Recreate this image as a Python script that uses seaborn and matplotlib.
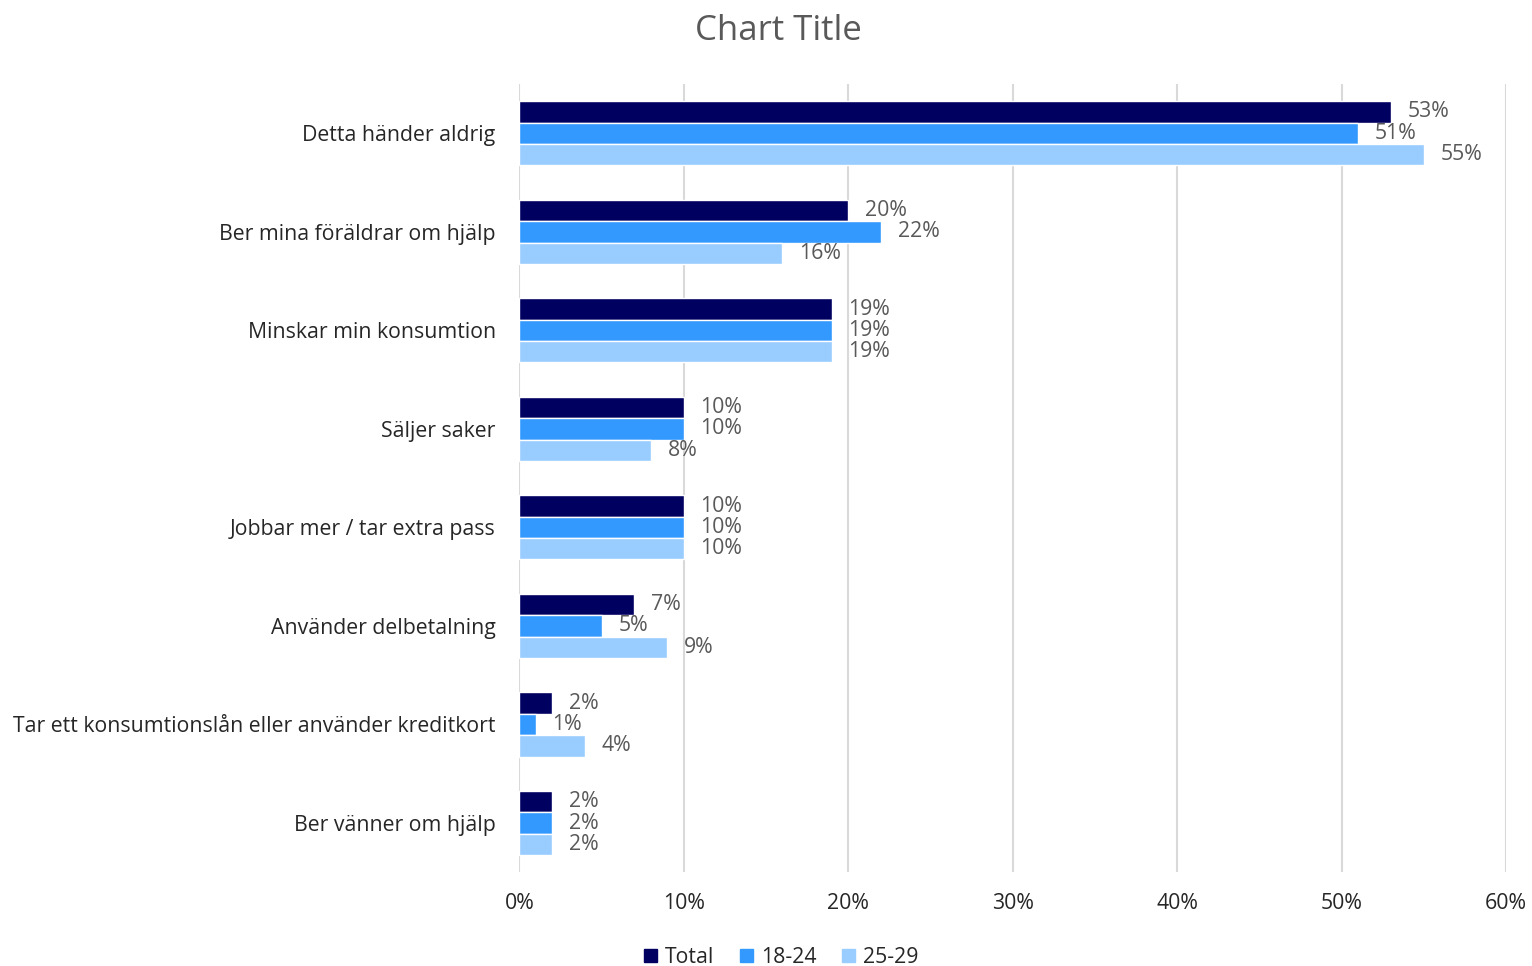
import numpy as np
import pandas as pd
import matplotlib.pyplot as plt
import seaborn as sns

categories = [
    'Detta händer aldrig',
    'Ber mina föräldrar om hjälp',
    'Minskar min konsumtion',
    'Säljer saker',
    'Jobbar mer / tar extra pass',
    'Använder delbetalning',
    'Tar ett konsumtionslån eller använder kreditkort',
    'Ber vänner om hjälp',
]
groups = ['Total', '18-24', '25-29']
total = [53, 20, 19, 10, 10, 7, 2, 2]
age_18_24 = [51, 22, 19, 10, 10, 5, 1, 2]
age_25_29 = [55, 16, 19, 8, 10, 9, 4, 2]
colors = ['#000060', '#3399FF', '#99CCFF']
xticks = [0, 10, 20, 30, 40, 50, 60]

# long-form table for seaborn
rows = []
for g, vals in zip(groups, [total, age_18_24, age_25_29]):
    for c, v in zip(categories, vals):
        rows.append({'category': c, 'group': g, 'value': v})
df = pd.DataFrame(rows)

sns.set_style('white')
plt.rcParams['font.family'] = ['Open Sans', 'DejaVu Sans']

fig = plt.figure(figsize=(15.32, 9.66), dpi=100)
ax = fig.add_axes([0.339, 0.097, 0.644, 0.816])

sns.barplot(data=df, y='category', x='value', hue='group', order=categories,
            hue_order=groups, palette=colors, orient='h', width=0.65,
            edgecolor='white', linewidth=1, saturation=1, ax=ax, legend=False)

# data labels
for cont, vals in zip(ax.containers, [total, age_18_24, age_25_29]):
    ax.bar_label(cont, labels=[f'{v}%' for v in vals], padding=12,
                 fontsize=15.3, color='#595959')

ax.set_xlim(0, 60)
ax.set_xticks(xticks)
ax.set_xticklabels([f'{t}%' for t in xticks])
ax.grid(axis='x', color='#d9d9d9', linewidth=1.5)
ax.set_axisbelow(True)
for s in ax.spines.values():
    s.set_visible(False)
ax.tick_params(axis='both', length=0, labelsize=15.3, colors='#262626')
ax.tick_params(axis='x', pad=15)
ax.tick_params(axis='y', pad=17)
ax.set_xlabel('')
ax.set_ylabel('')

fig.text(0.508, 0.968, 'Chart Title', ha='center', va='center',
         fontsize=25, color='#595959')

handles = [plt.Rectangle((0, 0), 1, 1, color=c) for c in colors]
fig.legend(handles, groups, loc='center', bbox_to_anchor=(0.51, 0.009),
           ncol=3, frameon=False, fontsize=15.3, handlelength=0.6,
           handleheight=0.6, handletextpad=0.4, columnspacing=1.2,
           labelcolor='#262626')

fig.savefig('out.png', dpi=100)
